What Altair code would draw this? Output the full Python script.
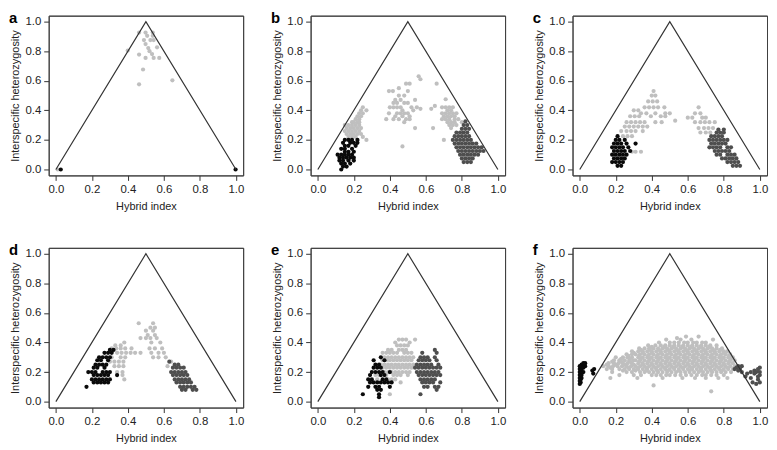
import altair as alt
import pandas as pd

# ---------------- data ----------------
# each group is a list of rows: (interspecific heterozygosity, [hybrid index values])
A_GRAY = [(0.926, [0.462, 0.498, 0.538]), (0.904, [0.507, 0.538]), (0.875, [0.489, 0.525, 0.543]),
          (0.848, [0.498]), (0.826, [0.562]), (0.821, [0.513]), (0.804, [0.399]), (0.80, [0.52]),
          (0.78, [0.534]), (0.777, [0.462]), (0.754, [0.498, 0.543, 0.574]), (0.676, [0.484]),
          (0.603, [0.647]), (0.576, [0.462]), (0.0, [0.01])]
A_BLACK = [(0.0, [0.027, 0.998])]
A_DARK = []

B_BLACK = [(0.2, [0.15, 0.17, 0.19, 0.22]), (0.18, [0.14, 0.18, 0.20, 0.22]), (0.16, [0.15, 0.17, 0.21]),
           (0.14, [0.13, 0.15, 0.19]), (0.12, [0.15, 0.17, 0.20]), (0.10, [0.11, 0.13, 0.15, 0.17, 0.19]),
           (0.08, [0.12, 0.14, 0.16, 0.18, 0.20]), (0.06, [0.12, 0.14, 0.17, 0.20]),
           (0.04, [0.13, 0.15, 0.18]), (0.02, [0.14, 0.16]), (0.0, [0.13])]
B_GRAY = [(0.42, [0.25]), (0.40, [0.24, 0.27]), (0.38, [0.23, 0.25]), (0.36, [0.22, 0.24]),
          (0.34, [0.21, 0.23]), (0.32, [0.19, 0.20, 0.22, 0.23]), (0.30, [0.15, 0.17, 0.19, 0.21, 0.23]),
          (0.28, [0.16, 0.18, 0.20, 0.22, 0.24]), (0.26, [0.15, 0.17, 0.19, 0.21, 0.23]),
          (0.24, [0.16, 0.18, 0.20, 0.22, 0.24]), (0.22, [0.17, 0.19, 0.21, 0.25]), (0.20, [0.18, 0.27]),
          (0.63, [0.56]), (0.61, [0.57]), (0.58, [0.49, 0.51, 0.66]), (0.55, [0.45]),
          (0.53, [0.395, 0.417, 0.50]), (0.50, [0.45, 0.48]), (0.47, [0.43, 0.46, 0.54]),
          (0.45, [0.42, 0.44, 0.48, 0.50]), (0.43, [0.65]), (0.42, [0.40, 0.42, 0.44, 0.46, 0.52, 0.55]),
          (0.41, [0.57, 0.63]), (0.40, [0.47, 0.53]), (0.38, [0.395, 0.44, 0.46, 0.48, 0.50]),
          (0.36, [0.43, 0.47, 0.51]), (0.34, [0.38, 0.42, 0.45, 0.49, 0.51]), (0.32, [0.48]),
          (0.28, [0.54]), (0.156, [0.47]),
          (0.475, [0.71]), (0.42, [0.69, 0.71, 0.73, 0.75]), (0.40, [0.72, 0.74]),
          (0.38, [0.69, 0.71, 0.73, 0.75, 0.77]), (0.36, [0.70, 0.72, 0.74, 0.76]),
          (0.34, [0.69, 0.71, 0.73, 0.76, 0.78]), (0.32, [0.72, 0.74, 0.76, 0.80]),
          (0.30, [0.73, 0.75, 0.77]), (0.28, [0.64, 0.74]), (0.20, [0.70])]
B_DARK = [(0.325, [0.82]), (0.30, [0.81, 0.83]), (0.275, [0.80, 0.82, 0.84]), (0.25, [0.77, 0.79, 0.81, 0.83]),
          (0.225, [0.76, 0.78, 0.80, 0.82, 0.84]), (0.20, [0.75, 0.77, 0.79, 0.81, 0.83, 0.85]),
          (0.175, [0.76, 0.78, 0.80, 0.82, 0.84, 0.86, 0.88]),
          (0.15, [0.77, 0.79, 0.81, 0.83, 0.85, 0.87, 0.89, 0.91]),
          (0.125, [0.78, 0.80, 0.82, 0.84, 0.86, 0.88, 0.90, 0.92]),
          (0.10, [0.79, 0.81, 0.83, 0.85, 0.87, 0.89]), (0.075, [0.80, 0.82, 0.84, 0.86]),
          (0.05, [0.81, 0.83, 0.85])]

C_BLACK = [(0.225, [0.21]), (0.20, [0.20, 0.22, 0.25]), (0.175, [0.19, 0.21, 0.23, 0.26, 0.31]),
           (0.15, [0.18, 0.20, 0.22, 0.24, 0.27]), (0.125, [0.19, 0.21, 0.23, 0.25, 0.28]),
           (0.10, [0.18, 0.20, 0.22, 0.24, 0.26]), (0.075, [0.19, 0.21, 0.23, 0.25]),
           (0.05, [0.18, 0.20, 0.22, 0.24]), (0.025, [0.21, 0.23])]
C_GRAY = [(0.53, [0.41]), (0.50, [0.40, 0.42]), (0.46, [0.38, 0.405, 0.43]),
          (0.42, [0.36, 0.385, 0.41, 0.435, 0.47]), (0.40, [0.30, 0.325]),
          (0.38, [0.34, 0.37, 0.42, 0.475, 0.50]), (0.36, [0.28, 0.305, 0.33, 0.395, 0.45, 0.475]),
          (0.32, [0.26, 0.285, 0.31, 0.335, 0.36, 0.42, 0.455]), (0.33, [0.53]),
          (0.29, [0.25, 0.275, 0.30, 0.325, 0.35, 0.375]), (0.26, [0.23, 0.26, 0.285, 0.31, 0.35]),
          (0.225, [0.24, 0.265, 0.29]), (0.12, [0.29, 0.31, 0.34]),
          (0.42, [0.66]), (0.38, [0.64, 0.67]), (0.35, [0.60, 0.625, 0.68, 0.70]),
          (0.32, [0.64, 0.67, 0.695, 0.72, 0.75]), (0.28, [0.66, 0.69, 0.715, 0.74]),
          (0.25, [0.67, 0.70, 0.725])]
C_DARK = [(0.27, [0.77, 0.80]), (0.25, [0.76, 0.78, 0.80]), (0.225, [0.73, 0.75, 0.77, 0.79]),
          (0.20, [0.72, 0.74, 0.76, 0.78, 0.80, 0.82]), (0.175, [0.73, 0.75, 0.77, 0.79, 0.81]),
          (0.15, [0.72, 0.74, 0.76, 0.78, 0.82, 0.84]), (0.125, [0.75, 0.77, 0.79, 0.81, 0.83]),
          (0.10, [0.76, 0.78, 0.82, 0.84, 0.86]), (0.075, [0.79, 0.81, 0.83, 0.85, 0.87]),
          (0.05, [0.82, 0.84, 0.86, 0.88]), (0.025, [0.85, 0.87, 0.89])]

D_BLACK = [(0.35, [0.30, 0.32]), (0.33, [0.27, 0.29, 0.31]), (0.30, [0.24, 0.26, 0.28, 0.30]),
           (0.28, [0.23, 0.25, 0.29]), (0.25, [0.22, 0.24, 0.26, 0.28]), (0.23, [0.21, 0.23, 0.27]),
           (0.20, [0.18, 0.20, 0.22, 0.26, 0.28, 0.30]), (0.18, [0.21, 0.23, 0.25, 0.27, 0.29, 0.34]),
           (0.15, [0.20, 0.22, 0.24, 0.26, 0.28, 0.30]), (0.13, [0.21, 0.23, 0.25, 0.27, 0.29]),
           (0.10, [0.17])]
D_GRAY = [(0.53, [0.46, 0.54]), (0.50, [0.525, 0.55]), (0.48, [0.50, 0.54]), (0.45, [0.51, 0.55]),
          (0.43, [0.47, 0.50, 0.525, 0.56]), (0.40, [0.38, 0.53, 0.58]), (0.38, [0.33, 0.36]),
          (0.36, [0.31, 0.335, 0.36, 0.385, 0.42, 0.52, 0.55, 0.59]),
          (0.33, [0.34, 0.365, 0.39, 0.415, 0.44, 0.47, 0.53, 0.57, 0.60]),
          (0.30, [0.31, 0.36, 0.385, 0.54, 0.57, 0.61]), (0.27, [0.30, 0.325, 0.35, 0.375, 0.64]),
          (0.24, [0.325, 0.35, 0.375, 0.62, 0.66]), (0.20, [0.34, 0.37]), (0.18, [0.37]), (0.15, [0.38])]
D_DARK = [(0.27, [0.63]), (0.25, [0.66, 0.68]), (0.23, [0.65, 0.67, 0.69, 0.71]),
          (0.20, [0.64, 0.66, 0.68, 0.70, 0.72]), (0.18, [0.65, 0.67, 0.69, 0.71, 0.73]),
          (0.15, [0.66, 0.68, 0.70, 0.72, 0.74]), (0.13, [0.67, 0.69, 0.71, 0.73, 0.75]),
          (0.10, [0.69, 0.71, 0.73, 0.75, 0.77]), (0.08, [0.70, 0.72, 0.76, 0.78])]

E_BLACK = [(0.30, [0.35]), (0.28, [0.31, 0.37]), (0.25, [0.32, 0.34]), (0.23, [0.31, 0.33, 0.35]),
           (0.20, [0.30, 0.32, 0.34, 0.36, 0.40]), (0.18, [0.29, 0.35, 0.37]),
           (0.15, [0.28, 0.30, 0.36, 0.38]), (0.13, [0.29, 0.31, 0.33, 0.35, 0.37, 0.39, 0.41]),
           (0.10, [0.28, 0.32, 0.34, 0.40]), (0.08, [0.33, 0.35]), (0.05, [0.25, 0.34]), (0.03, [0.34])]
E_GRAY = [(0.42, [0.45, 0.47, 0.49, 0.54]), (0.40, [0.43, 0.51]), (0.38, [0.44, 0.46, 0.48, 0.50]),
          (0.35, [0.39, 0.41, 0.45, 0.47, 0.49]),
          (0.33, [0.36, 0.38, 0.40, 0.42, 0.44, 0.48, 0.50, 0.52]),
          (0.30, [0.37, 0.39, 0.41, 0.43, 0.45, 0.47, 0.49, 0.51, 0.53]),
          (0.28, [0.36, 0.38, 0.40, 0.42, 0.44, 0.46, 0.48, 0.50, 0.52]),
          (0.25, [0.35, 0.37, 0.39, 0.41, 0.43, 0.45, 0.47, 0.49, 0.51, 0.53]),
          (0.23, [0.36, 0.38, 0.40, 0.42, 0.44, 0.46, 0.48, 0.50, 0.52]),
          (0.20, [0.37, 0.39, 0.41, 0.43, 0.45, 0.47, 0.49, 0.51]),
          (0.18, [0.32, 0.34, 0.38, 0.42, 0.44, 0.46, 0.50]), (0.15, [0.33, 0.39, 0.41, 0.43]),
          (0.13, [0.46]), (0.05, [0.40])]
E_DARK = [(0.35, [0.65]), (0.33, [0.58, 0.66]), (0.30, [0.57, 0.59, 0.61, 0.65]),
          (0.28, [0.56, 0.58, 0.60, 0.62, 0.66]), (0.25, [0.55, 0.57, 0.59, 0.61, 0.63, 0.67]),
          (0.23, [0.54, 0.56, 0.58, 0.60, 0.62, 0.64, 0.66, 0.68]),
          (0.20, [0.55, 0.57, 0.59, 0.61, 0.63, 0.65, 0.67]),
          (0.18, [0.56, 0.58, 0.60, 0.62, 0.64, 0.66, 0.68]), (0.15, [0.57, 0.59, 0.61, 0.63, 0.65]),
          (0.13, [0.58, 0.60, 0.62, 0.64, 0.68]), (0.10, [0.59, 0.61, 0.65, 0.67]), (0.08, [0.66]),
          (0.05, [0.57])]

F_BLACK = [(0.26, [0.02, 0.03]), (0.25, [0.01, 0.025]), (0.24, [0.0, 0.015, 0.03]), (0.23, [0.005, 0.02]),
           (0.22, [0.0, 0.01, 0.08]), (0.21, [0.005, 0.07]), (0.20, [0.0, 0.01, 0.02]),
           (0.19, [0.005, 0.075]), (0.18, [0.0, 0.01]), (0.17, [0.005]), (0.16, [0.0, 0.01]),
           (0.15, [0.005]), (0.14, [0.0]), (0.13, [0.005]), (0.12, [0.0])]
F_GRAY = [(0.44, [0.59, 0.66]), (0.43, [0.54]), (0.42, [0.48, 0.56, 0.62, 0.74]),
          (0.40, [0.44, 0.50, 0.525, 0.55, 0.58, 0.60, 0.63, 0.65, 0.68, 0.70]),
          (0.38, [0.38, 0.42, 0.45, 0.475, 0.50, 0.525, 0.55, 0.575, 0.60, 0.625, 0.65, 0.675, 0.70,
                  0.725, 0.76]),
          (0.36, [0.33, 0.36, 0.385, 0.41, 0.435, 0.46, 0.485, 0.51, 0.535, 0.56, 0.585, 0.61, 0.635,
                  0.66, 0.685, 0.71, 0.735, 0.76, 0.79]),
          (0.34, [0.29, 0.325, 0.35, 0.375, 0.40, 0.425, 0.45, 0.475, 0.50, 0.525, 0.55, 0.575, 0.60,
                  0.625, 0.65, 0.675, 0.70, 0.725, 0.75, 0.775, 0.80, 0.82]),
          (0.32, [0.26, 0.29, 0.31, 0.335, 0.36, 0.385, 0.41, 0.435, 0.46, 0.485, 0.51, 0.535, 0.56,
                  0.585, 0.61, 0.635, 0.66, 0.685, 0.71, 0.735, 0.76, 0.785, 0.81, 0.835]),
          (0.30, [0.20, 0.24, 0.265, 0.29, 0.325, 0.35, 0.375, 0.40, 0.425, 0.45, 0.475, 0.50, 0.525,
                  0.55, 0.575, 0.60, 0.625, 0.65, 0.675, 0.70, 0.725, 0.75, 0.775, 0.80, 0.825, 0.85]),
          (0.28, [0.19, 0.22, 0.25, 0.275, 0.30, 0.31, 0.335, 0.36, 0.385, 0.41, 0.435, 0.46, 0.485,
                  0.51, 0.535, 0.56, 0.585, 0.61, 0.635, 0.66, 0.685, 0.71, 0.735, 0.76, 0.785, 0.81,
                  0.835, 0.86]),
          (0.26, [0.16, 0.19, 0.215, 0.24, 0.265, 0.29, 0.325, 0.35, 0.375, 0.40, 0.425, 0.45, 0.475,
                  0.50, 0.525, 0.55, 0.575, 0.60, 0.625, 0.65, 0.675, 0.70, 0.725, 0.75, 0.775, 0.80,
                  0.825, 0.85]),
          (0.24, [0.13, 0.16, 0.185, 0.21, 0.235, 0.26, 0.285, 0.31, 0.335, 0.36, 0.385, 0.41, 0.435,
                  0.46, 0.485, 0.51, 0.535, 0.56, 0.585, 0.61, 0.635, 0.66, 0.685, 0.71, 0.735, 0.76,
                  0.785, 0.81, 0.835, 0.86]),
          (0.22, [0.15, 0.18, 0.22, 0.25, 0.275, 0.30, 0.325, 0.35, 0.375, 0.40, 0.425, 0.45, 0.475,
                  0.50, 0.525, 0.55, 0.575, 0.60, 0.625, 0.65, 0.675, 0.70, 0.725, 0.75, 0.775, 0.80,
                  0.825, 0.85]),
          (0.20, [0.18, 0.26, 0.29, 0.335, 0.36, 0.385, 0.41, 0.435, 0.46, 0.485, 0.51, 0.535, 0.56,
                  0.585, 0.61, 0.635, 0.66, 0.685, 0.71, 0.735, 0.76, 0.785, 0.81, 0.84]),
          (0.18, [0.22, 0.30, 0.34, 0.40, 0.425, 0.45, 0.48, 0.50, 0.53, 0.56, 0.59, 0.62, 0.65, 0.68,
                  0.70, 0.73, 0.76, 0.80]),
          (0.16, [0.17, 0.32, 0.46, 0.57, 0.64, 0.70, 0.77, 0.82]), (0.11, [0.41]), (0.07, [0.73]),
          (0.37, [0.40, 0.47, 0.52, 0.57, 0.62, 0.67, 0.72]),
          (0.35, [0.34, 0.39, 0.44, 0.49, 0.54, 0.59, 0.64, 0.69, 0.74, 0.78]),
          (0.33, [0.30, 0.35, 0.40, 0.45, 0.50, 0.55, 0.60, 0.65, 0.70, 0.75, 0.80]),
          (0.31, [0.27, 0.33, 0.38, 0.43, 0.48, 0.53, 0.58, 0.63, 0.68, 0.73, 0.78, 0.83]),
          (0.29, [0.23, 0.28, 0.34, 0.39, 0.44, 0.49, 0.54, 0.59, 0.64, 0.69, 0.74, 0.79, 0.84]),
          (0.27, [0.18, 0.23, 0.28, 0.33, 0.38, 0.43, 0.48, 0.53, 0.58, 0.63, 0.68, 0.73, 0.78, 0.83]),
          (0.25, [0.15, 0.20, 0.25, 0.30, 0.35, 0.40, 0.45, 0.50, 0.55, 0.60, 0.65, 0.70, 0.75, 0.80]),
          (0.23, [0.17, 0.27, 0.32, 0.37, 0.42, 0.47, 0.52, 0.57, 0.62, 0.67, 0.72, 0.77, 0.82]),
          (0.21, [0.24, 0.31, 0.37, 0.43, 0.49, 0.55, 0.61, 0.67, 0.73, 0.79])]
F_DARK = [(0.24, [0.88, 0.90]), (0.23, [0.87, 1.0]), (0.22, [0.86, 0.89, 0.99]), (0.21, [0.88, 0.97]),
          (0.20, [0.90, 0.95, 0.98, 1.0]), (0.19, [0.93, 0.97]), (0.18, [1.0]), (0.17, [0.92, 0.99]),
          (0.16, [0.95]), (0.15, [0.99]), (0.13, [0.96, 1.0]), (0.12, [0.98])]

LETTERS = ["a", "b", "c", "d", "e", "f"]
GROUPS = {"a": (A_GRAY, A_BLACK, A_DARK), "b": (B_GRAY, B_BLACK, B_DARK), "c": (C_GRAY, C_BLACK, C_DARK),
          "d": (D_GRAY, D_BLACK, D_DARK), "e": (E_GRAY, E_BLACK, E_DARK), "f": (F_GRAY, F_BLACK, F_DARK)}
TRI_X = [0.0, 0.5, 1.0]
TRI_Y = [0.0, 1.0, 0.0]
TICKS = [0.0, 0.2, 0.4, 0.6, 0.8, 1.0]
LIMITS = [-0.04, 1.04]           # axis limits (R-style 4 % expansion)

GROUP_NAMES = ["gray", "black", "dark"]
GROUP_COLORS = ["#bfbfbf", "#0a0a0a", "#4e4e4e"]

FONT = "Liberation Sans"
W, H = 196, 161
FRAME = "#404040"


def panel_df(letter):
    recs = []
    for k, rows in enumerate(GROUPS[letter]):
        for yv, xs in rows:
            for xv in xs:
                recs.append({"x": xv, "y": yv, "g": GROUP_NAMES[k], "o": k})
    return pd.DataFrame(recs, columns=["x", "y", "g", "o"])


XSC = alt.Scale(domain=LIMITS, nice=False, zero=False)
YSC = alt.Scale(domain=LIMITS, nice=False, zero=False)
XAX = alt.Axis(values=TICKS, format=".1f", title="Hybrid index", grid=False, domain=True,
               tickSize=5, labelPadding=3, titlePadding=6, labelFlush=False, labelOverlap=False)
YAX = alt.Axis(values=TICKS, format=".1f", title="Interspecific heterozygosity", grid=False,
               domain=True, tickSize=5, labelPadding=3, titlePadding=4, labelFlush=False,
               labelOverlap=False)
TOPAX = alt.Axis(orient="top", labels=False, ticks=False, title="", grid=False, domain=True)
RIGHTAX = alt.Axis(orient="right", labels=False, ticks=False, title="", grid=False, domain=True)


def panel(letter):
    one = pd.DataFrame({"t": [letter]})
    tri_df = pd.DataFrame({"x": TRI_X, "y": TRI_Y, "i": [0, 1, 2]})
    pts = alt.Chart(panel_df(letter)).mark_circle(size=18, opacity=1).encode(
        x=alt.X("x:Q", scale=XSC, axis=XAX),
        y=alt.Y("y:Q", scale=YSC, axis=YAX),
        color=alt.Color("g:N", scale=alt.Scale(domain=GROUP_NAMES, range=GROUP_COLORS), legend=None),
        order=alt.Order("o:Q"),
    )
    tri = alt.Chart(tri_df).mark_line(color="#333333", strokeWidth=1.2).encode(
        x=alt.X("x:Q", scale=XSC, axis=None), y=alt.Y("y:Q", scale=YSC, axis=None), order="i:Q")
    edges = alt.Chart(tri_df).mark_point(opacity=0).encode(
        x=alt.X("x:Q", scale=XSC, axis=TOPAX), y=alt.Y("y:Q", scale=YSC, axis=RIGHTAX))
    lab = alt.Chart(one).mark_text(
        font=FONT, fontSize=15, fontWeight="bold", align="left", baseline="alphabetic",
        color="#000000").encode(text="t:N", x=alt.value(-40), y=alt.value(7))
    return alt.layer(pts, tri, lab, edges).resolve_axis(x="independent", y="independent").properties(
        width=W, height=H)


row1 = alt.hconcat(*[panel(l) for l in LETTERS[:3]], spacing=25)
row2 = alt.hconcat(*[panel(l) for l in LETTERS[3:]], spacing=25)
chart = alt.vconcat(row1, row2, spacing=30).properties(padding=0).configure(
    padding=0).configure_view(stroke=FRAME, strokeWidth=1).configure_axis(
    labelFont=FONT, titleFont=FONT, labelFontSize=11.5, titleFontSize=11, titleFontWeight="normal",
    labelColor="#222222", titleColor="#222222", tickColor="#333333", domainColor=FRAME,
    domainWidth=1, labelOverlap=False, labelFlush=False)

chart.save("out.html", embed_options={"renderer": "svg", "actions": False})
